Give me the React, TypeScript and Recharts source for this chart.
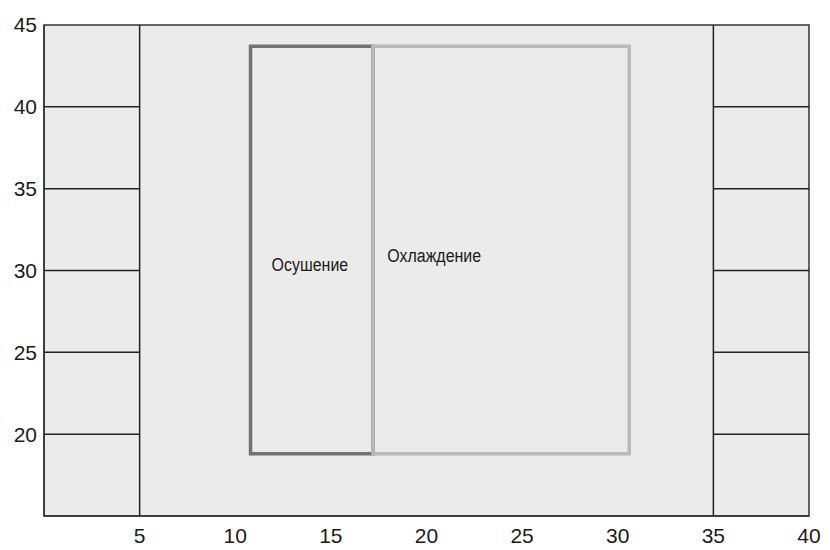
import { ComposedChart, Scatter, XAxis, YAxis, ReferenceArea, ReferenceLine } from 'recharts'

const xTicks = [5, 10, 15, 20, 25, 30, 35, 40]
const yTicks = [20, 25, 30, 35, 40, 45]

// зоны
const zoneNames = ['Осушение', 'Охлаждение']
const zoneX1 = [10.8, 17.2]
const zoneX2 = [17.2, 30.6]
const zoneY1 = [18.8, 18.8]
const zoneY2 = [43.7, 43.7]
const zoneStroke = ['#727272', '#b9b9b9']

// подписи зон (левый край текста, центр по высоте)
const labelX = [11.9, 17.95]
const labelY = [30.4, 30.9]

const dividers = [5, 35]
const sideRows = [20, 25, 30, 35, 40]
const sideCols: [number, number][] = [[0, 5], [35, 40]]

const labels = zoneNames.map((name, i) => ({ x: labelX[i], y: labelY[i], name }))

const tickStyle = { fill: '#1a1a1a', fontSize: 21, fontFamily: '"Liberation Sans", Arial, sans-serif' }

// узкий шрифт имитируем сжатием по горизонтали
function ZoneLabel(props: any) {
  const { cx, cy, payload } = props
  return (
    <text
      x={0}
      y={0}
      dy="0.35em"
      transform={`translate(${cx},${cy}) scale(0.84,1)`}
      fontSize={19}
      fill="#1a1a1a"
      fontFamily='"Liberation Sans", Arial, sans-serif'
    >
      {payload.name}
    </text>
  )
}

export default function App() {
  return (
    <div style={{ margin: '-8px 0 0 -8px', background: '#fff', width: 830, height: 550 }}>
      <ComposedChart width={830} height={550} data={labels} margin={{ top: 25, right: 21, left: 0, bottom: 0 }}>
        <XAxis
          type="number"
          dataKey="x"
          domain={[0, 40]}
          ticks={xTicks}
          allowDataOverflow
          tickLine={false}
          tickSize={0}
          tickMargin={12}
          height={34}
          axisLine={{ stroke: '#333', strokeWidth: 1.5 }}
          tick={tickStyle}
        />
        <YAxis
          type="number"
          dataKey="y"
          domain={[15, 45]}
          ticks={yTicks}
          allowDataOverflow
          tickLine={false}
          tickSize={0}
          tickMargin={7}
          width={44}
          axisLine={{ stroke: '#333', strokeWidth: 1.5 }}
          tick={tickStyle}
        />
        <ReferenceArea x1={0} x2={40} y1={15} y2={45} fill="#ebebeb" fillOpacity={1} stroke="#333" strokeWidth={1.5} />
        {zoneNames.map((n, i) => (
          <ReferenceArea
            key={n}
            x1={zoneX1[i]}
            x2={zoneX2[i]}
            y1={zoneY1[i]}
            y2={zoneY2[i]}
            fill="none"
            stroke={zoneStroke[i]}
            strokeWidth={3.5}
          />
        ))}
        {dividers.map((d) => (
          <ReferenceLine key={'d' + d} x={d} stroke="#222" strokeWidth={1.5} />
        ))}
        {sideCols.map(([a, b]) =>
          sideRows.map((r) => (
            <ReferenceLine
              key={`s${a}-${r}`}
              segment={[{ x: a, y: r }, { x: b, y: r }]}
              stroke="#222"
              strokeWidth={1.5}
            />
          ))
        )}
        <Scatter dataKey="y" shape={<ZoneLabel />} isAnimationActive={false} />
      </ComposedChart>
    </div>
  )
}
